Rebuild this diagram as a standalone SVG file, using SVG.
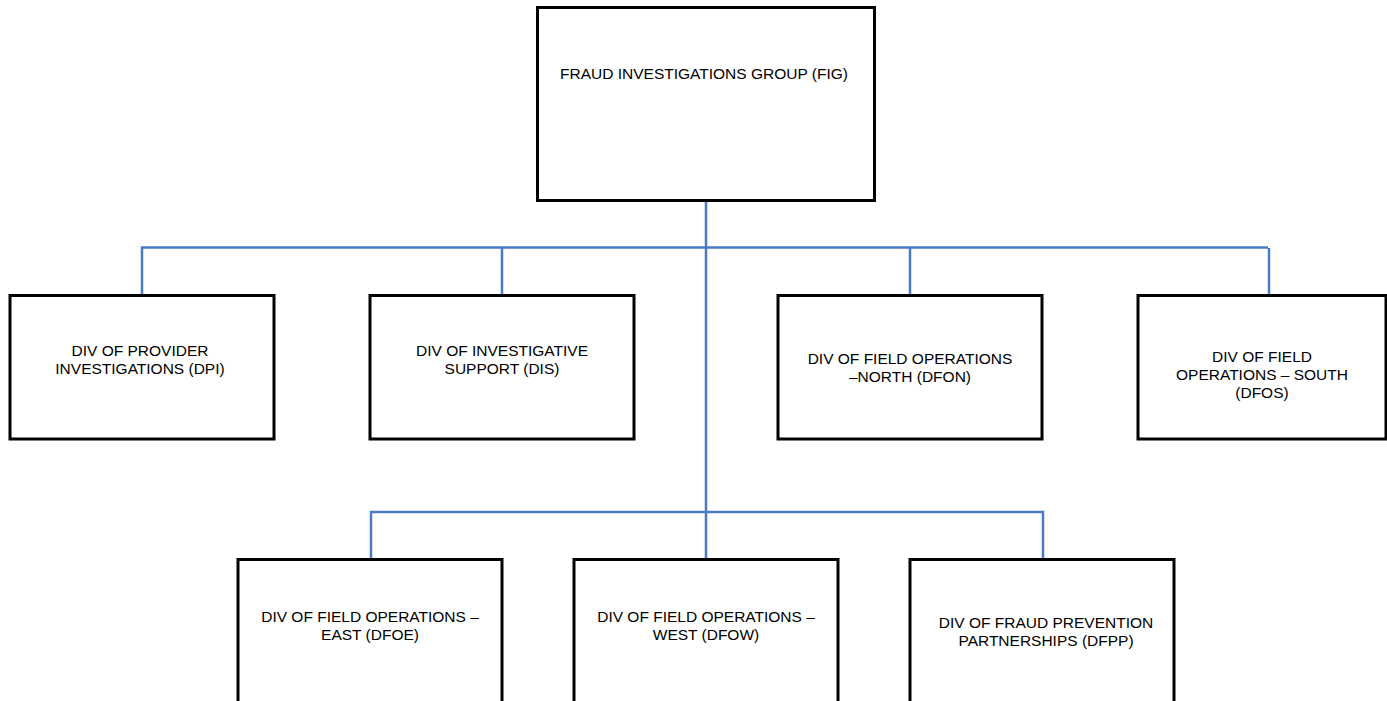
<svg xmlns="http://www.w3.org/2000/svg" width="1387" height="701" viewBox="0 0 1387 701">
<style>
.box{fill:#fff;stroke:#000;stroke-width:3}
.lbl{font-family:"Liberation Sans",Arial,sans-serif;font-size:15.5px;fill:#000;text-anchor:middle}
.con{fill:none;stroke:#4a7bc4;stroke-width:2.5}
</style>
<rect width="1387" height="701" fill="#fff"/>
<g id="connectors">
<path class="con" d="M706 200V559"/>
<path class="con" d="M142 295V247.5H1268"/>
<path class="con" d="M502 247.5V295"/>
<path class="con" d="M910 247.5V295"/>
<path class="con" d="M1269 248V295"/>
<path class="con" d="M371 559V512H1043V559"/>
</g>
<g id="fig">
<rect class="box" x="537.5" y="7.5" width="337" height="193"/>
<text class="lbl" x="704" y="79">FRAUD INVESTIGATIONS GROUP (FIG)</text>
</g>
<g id="dpi">
<rect class="box" x="10" y="295.5" width="264" height="143.5"/>
<text class="lbl" x="140" y="356">DIV OF PROVIDER</text>
<text class="lbl" x="140" y="374">INVESTIGATIONS (DPI)</text>
</g>
<g id="dis">
<rect class="box" x="370" y="295.5" width="264" height="143.5"/>
<text class="lbl" x="502" y="356">DIV OF INVESTIGATIVE</text>
<text class="lbl" x="502" y="374">SUPPORT (DIS)</text>
</g>
<g id="dfon">
<rect class="box" x="778" y="295.5" width="264" height="143.5"/>
<text class="lbl" x="910" y="364">DIV OF FIELD OPERATIONS</text>
<text class="lbl" x="910" y="382">–NORTH (DFON)</text>
</g>
<g id="dfos">
<rect class="box" x="1138" y="295.5" width="248" height="143.5"/>
<text class="lbl" x="1262" y="362">DIV OF FIELD</text>
<text class="lbl" x="1262" y="380">OPERATIONS – SOUTH</text>
<text class="lbl" x="1262" y="398">(DFOS)</text>
</g>
<g id="dfoe">
<rect class="box" x="238" y="559.5" width="264" height="150"/>
<text class="lbl" x="370" y="622">DIV OF FIELD OPERATIONS –</text>
<text class="lbl" x="370" y="640">EAST (DFOE)</text>
</g>
<g id="dfow">
<rect class="box" x="574" y="559.5" width="264" height="150"/>
<text class="lbl" x="706" y="622">DIV OF FIELD OPERATIONS –</text>
<text class="lbl" x="706" y="640">WEST (DFOW)</text>
</g>
<g id="dfpp">
<rect class="box" x="910" y="559.5" width="264" height="150"/>
<text class="lbl" x="1046" y="628">DIV OF FRAUD PREVENTION</text>
<text class="lbl" x="1046" y="646">PARTNERSHIPS (DFPP)</text>
</g>
</svg>
